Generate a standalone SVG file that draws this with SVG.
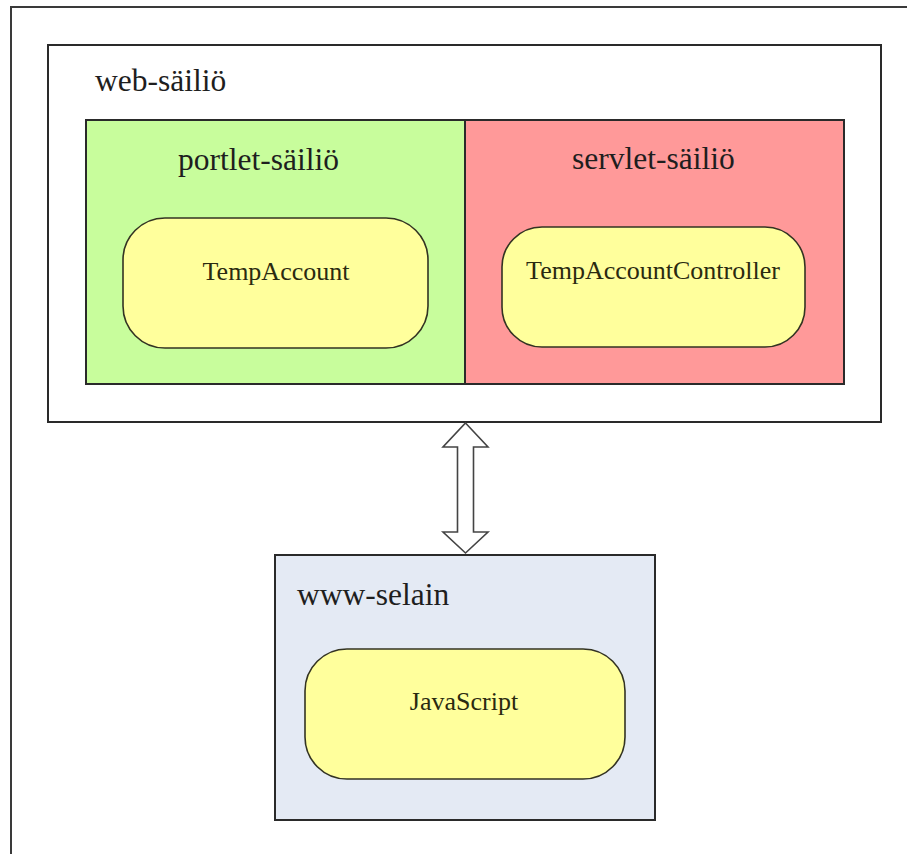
<svg xmlns="http://www.w3.org/2000/svg" width="907" height="854" viewBox="0 0 907 854">
  <style>
    .frame { fill: none; stroke: #3a3a3a; stroke-width: 2; }
    .box { stroke: #2a2a2a; stroke-width: 2; }
    .comp { fill: #ffff9c; stroke: #333322; stroke-width: 1.6; }
    .title { font-family: "Liberation Serif", "Times New Roman", serif; font-size: 31.5px; fill: #1e1e1e; }
    .label { font-family: "Liberation Serif", "Times New Roman", serif; font-size: 26px; fill: #2a2a10; text-anchor: middle; }
    .link { fill: #ffffff; stroke: #444444; stroke-width: 1.6; stroke-linejoin: miter; }
  </style>
  <rect width="907" height="854" fill="#ffffff"/>

  <!-- page frame: top and left edges only -->
  <path class="frame" d="M11 854 V7 H907"/>

  <g id="web-container">
    <rect class="box" x="48" y="45" width="833" height="377" fill="#ffffff"/>
    <text class="title" x="95" y="91">web-säiliö</text>
  </g>

  <g id="portlet-container">
    <rect class="box" x="86" y="120" width="379" height="264" fill="#c8fd9c"/>
    <text class="title" x="178" y="170">portlet-säiliö</text>
  </g>

  <g id="servlet-container">
    <rect class="box" x="465" y="120" width="379" height="264" fill="#ff9999"/>
    <text class="title" x="572" y="169">servlet-säiliö</text>
  </g>

  <g id="temp-account">
    <rect class="comp" x="123" y="218" width="305" height="130" rx="42" ry="42"/>
    <text class="label" x="276" y="280">TempAccount</text>
  </g>

  <g id="temp-account-controller">
    <rect class="comp" x="502" y="227" width="303" height="120" rx="40" ry="40"/>
    <text class="label" x="653" y="279">TempAccountController</text>
  </g>

  <g id="browser">
    <rect class="box" x="275" y="555" width="380" height="265" fill="#e4eaf4"/>
    <text class="title" x="297" y="605">www-selain</text>
  </g>

  <g id="javascript">
    <rect class="comp" x="305" y="649" width="320" height="130" rx="42" ry="42"/>
    <text class="label" x="464" y="710">JavaScript</text>
  </g>

  <g id="connectors">
    <!-- two-way block arrow between the web container and the browser -->
    <path class="link" d="M465.5 423 L488 447 H473.5 V532 H488 L465.5 553 L443 532 H457.5 V447 H443 Z"/>
  </g>
</svg>
